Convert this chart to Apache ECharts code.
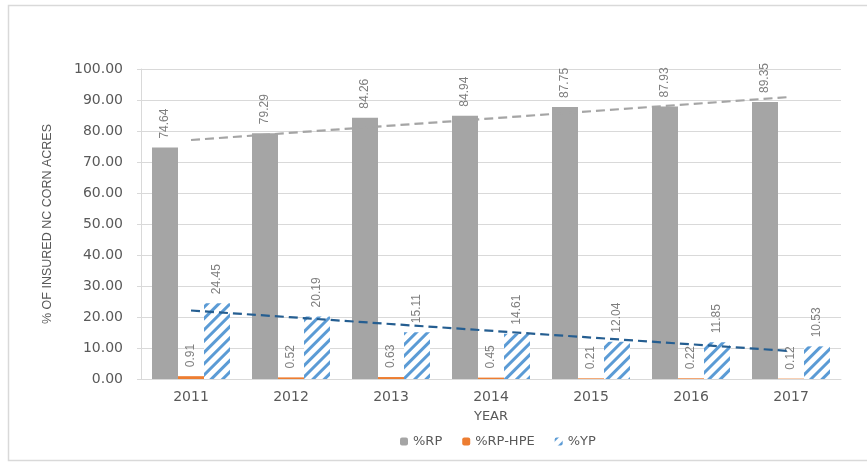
<!DOCTYPE html>
<html>
<head>
<meta charset="utf-8">
<script src="https://cdn.jsdelivr.net/npm/echarts@6/dist/echarts.min.js"></script>
<style>
html,body{margin:0;padding:0;background:#fff;}
#chart{width:867px;height:462px;}
</style>
</head>
<body>
<div id="chart"></div>
<script>
const years = ['2011','2012','2013','2014','2015','2016','2017'];
const rp = [74.64, 79.29, 84.26, 84.94, 87.75, 87.93, 89.35];
const rpHpe = [0.91, 0.52, 0.63, 0.45, 0.21, 0.22, 0.12];
const yp = [24.45, 20.19, 15.11, 14.61, 12.04, 11.85, 10.53];
// trend line endpoints (first and last year)
const rpTrend = [77.1, null, null, null, null, null, 91.0];
const ypTrend = [22.1, null, null, null, null, null, 9.0];
const yTicks = [0, 100, 10];

const chart = echarts.init(document.getElementById('chart'), null, {renderer: 'canvas'});
const labelStyle = {
  show: true, position: 'top', rotate: 90, align: 'left', verticalAlign: 'middle',
  distance: 9, color: '#7f7f7f', fontSize: 12, fontFamily: 'Liberation Sans Narrow, Liberation Sans, sans-serif',
  formatter: p => p.value.toFixed(2)
};
chart.setOption({
  backgroundColor: '#fff',
  animation: false,
  graphic: [{
    type: 'rect', shape: {x: 8.5, y: 5.5, width: 880, height: 455},
    style: {fill: 'none', stroke: '#d9d9d9', lineWidth: 1.5}, silent: true, z: -1
  }],
  grid: {left: 141, right: 26, top: 69, bottom: 83},
  legend: {
    data: ['%RP', '%RP-HPE', '%YP'],
    left: 395, top: 430, itemWidth: 8, itemHeight: 8, itemGap: 20,
    textStyle: {color: '#595959', fontSize: 13, fontFamily: 'DejaVu Sans, sans-serif'}
  },
  xAxis: {
    type: 'category', data: years,
    name: 'YEAR', nameLocation: 'middle', nameGap: 31,
    nameTextStyle: {color: '#595959', fontSize: 13, fontFamily: 'DejaVu Sans, sans-serif'},
    axisLine: {lineStyle: {color: '#d9d9d9', width: 1}},
    axisTick: {show: false},
    axisLabel: {color: '#595959', fontSize: 14, margin: 11, fontFamily: 'DejaVu Sans, sans-serif'}
  },
  yAxis: {
    type: 'value', min: yTicks[0], max: yTicks[1], interval: yTicks[2],
    name: '% OF INSURED NC CORN ACRES', nameLocation: 'middle', nameGap: 87, nameRotate: 90,
    nameTextStyle: {color: '#595959', fontSize: 12.5, fontFamily: 'Liberation Sans Narrow, Liberation Sans, sans-serif'},
    axisLine: {show: true, lineStyle: {color: '#d9d9d9'}},
    axisTick: {show: true, length: 4, lineStyle: {color: '#d9d9d9'}},
    splitLine: {lineStyle: {color: '#d9d9d9'}},
    axisLabel: {color: '#595959', fontSize: 14, margin: 18, fontFamily: 'DejaVu Sans, sans-serif',
      formatter: v => v.toFixed(2)}
  },
  series: [
    {name: '%RP', type: 'bar', data: rp, barWidth: 26, barGap: '0%',
     itemStyle: {color: '#a5a5a5'}, label: labelStyle},
    {name: '%RP-HPE', type: 'bar', data: rpHpe, barWidth: 26, barGap: '0%',
     itemStyle: {color: '#ed7d31'}, label: labelStyle},
    {name: '%YP', type: 'bar', data: yp, barWidth: 26, barGap: '0%',
     itemStyle: {color: '#ffffff', decal: {symbol: 'rect', dashArrayX: [1, 0], dashArrayY: [2.5, 4.5],
       rotation: -Math.PI / 4, color: '#5b9bd5', symbolSize: 1}},
     label: labelStyle},
    {name: 'rpTrend', type: 'line', data: rpTrend, connectNulls: true, symbol: 'none', z: 5,
     lineStyle: {color: '#a5a5a5', width: 2.2, type: [9, 5]}},
    {name: 'ypTrend', type: 'line', data: ypTrend, connectNulls: true, symbol: 'none', z: 5,
     lineStyle: {color: '#255e91', width: 2.2, type: [9, 5]}}
  ]
});
</script>
</body>
</html>
